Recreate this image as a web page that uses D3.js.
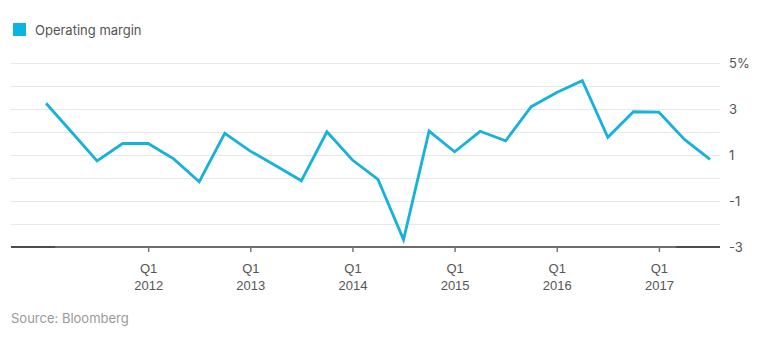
<!DOCTYPE html>
<html><head><meta charset="utf-8">
<script src="https://cdn.jsdelivr.net/npm/d3@7"></script>
<style>body{margin:0;background:#fff}svg{display:block;font-family:Inter,"Noto Sans",sans-serif}</style>
</head><body><svg id="c" width="760" height="343"></svg>
<script>
const quarters = ["Q1 2011","Q2 2011","Q3 2011","Q4 2011","Q1 2012","Q2 2012","Q3 2012","Q4 2012","Q1 2013","Q2 2013","Q3 2013","Q4 2013","Q1 2014","Q2 2014","Q3 2014","Q4 2014","Q1 2015","Q2 2015","Q3 2015","Q4 2015","Q1 2016","Q2 2016","Q3 2016","Q4 2016","Q1 2017","Q2 2017","Q3 2017"];
const margin = [3.25,2.0,0.74,1.5,1.5,0.83,-0.16,1.94,1.17,0.53,-0.12,2.01,0.78,-0.06,-2.68,2.04,1.14,2.03,1.62,3.1,3.72,4.23,1.77,2.88,2.86,1.68,0.81];
const yTicks = [5,3,1,-1,-3];
const gridValues = [5,4,3,2,1,0,-1,-2];
const xTickQuarters = ["Q1 2012","Q1 2013","Q1 2014","Q1 2015","Q1 2016","Q1 2017"];

const svg = d3.select("#c");
const x = d3.scaleLinear().domain([0, quarters.length-1]).range([46, 710]);
const y = d3.scaleLinear().domain([-3, 5]).range([247, 63]);
const col = "#17b2da";

// grid
svg.append("g").selectAll("line").data(gridValues).join("line")
  .attr("x1", 11).attr("x2", 720).attr("y1", d=>y(d)+0.5).attr("y2", d=>y(d)+0.5)
  .attr("stroke", "#e8e8e8").attr("stroke-width", 1);

// baseline black
svg.append("line").attr("x1", 11).attr("x2", 720).attr("y1", y(-3)).attr("y2", y(-3))
  .attr("stroke", "#111").attr("stroke-width", 1.5);

// x axis
const xa = d3.axisBottom(x).tickValues(xTickQuarters.map(q=>quarters.indexOf(q))).tickSize(5).tickFormat("");
const gx = svg.append("g").attr("transform", `translate(0,${y(-3)})`).call(xa);
gx.select(".domain").attr("d", `M55,0H676`).attr("stroke", "#777").attr("stroke-width", 1.5);
gx.selectAll(".tick line").attr("stroke", "#777").attr("stroke-width", 1.5);
gx.selectAll(".tick").each(function(d){
  const [qq, yr] = quarters[d].split(" ");
  const t = d3.select(this).append("text").attr("fill", "#555").attr("font-size", 13).attr("text-anchor", "middle");
  t.append("tspan").attr("x", 0).attr("y", 26).text(qq);
  t.append("tspan").attr("x", 0).attr("y", 43).text(yr);
});

// y labels
const ya = d3.axisRight(y).tickValues(yTicks).tickSize(0).tickPadding(0).tickFormat(d => d===5 ? "5%" : d);
const gy = svg.append("g").attr("transform", "translate(729,0)").call(ya);
gy.select(".domain").remove();
gy.selectAll("text").attr("fill", "#555").attr("font-size", 13).attr("font-family", "Inter,'Noto Sans',sans-serif");

// line
svg.append("path").datum(margin)
  .attr("d", d3.line().x((d,i)=>x(i)).y(d=>y(d)))
  .attr("fill", "none").attr("stroke", col).attr("stroke-width", 2.8).attr("stroke-linejoin", "miter");

// legend
svg.append("rect").attr("x", 13).attr("y", 23).attr("width", 13).attr("height", 13).attr("fill", "#0bb4e3");
svg.append("text").attr("x", 35).attr("y", 35).attr("font-size", 13).attr("fill", "#555").text("Operating margin");

// source
svg.append("text").attr("x", 11).attr("y", 323).attr("font-size", 13).attr("fill", "#999").text("Source: Bloomberg");
</script></body></html>
